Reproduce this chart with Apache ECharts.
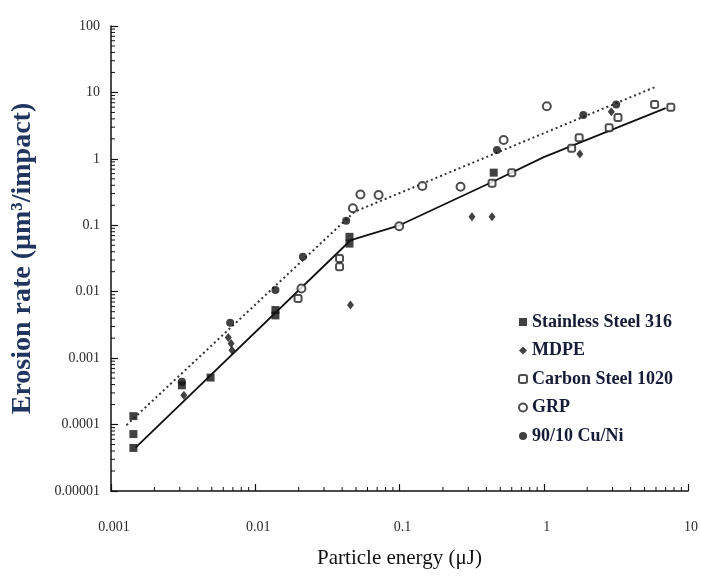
<!DOCTYPE html>
<html>
<head>
<meta charset="utf-8">
<script src="https://cdn.jsdelivr.net/npm/echarts@6/dist/echarts.min.js"></script>
<style>
html,body{margin:0;padding:0;background:#fff;}
#chart{width:701px;height:576px;}
</style>
</head>
<body>
<div id="chart"></div>
<script>
// ---- tick labels ----
const xTickValues = [0.001, 0.01, 0.1, 1, 10];
const xTickLabels = ['0.001', '0.01', '0.1', '1', '10'];
const yTickValues = [0.00001, 0.0001, 0.001, 0.01, 0.1, 1, 10, 100];
const yTickLabels = ['0.00001', '0.0001', '0.001', '0.01', '0.1', '1', '10', '100'];

// ---- series data: [particle energy (uJ), erosion rate (um3/impact)] ----
const stainlessSteel316 = [
  [0.00143, 0.000134], [0.00143, 0.000072], [0.00143, 0.0000445],
  [0.0031, 0.00039], [0.0049, 0.00051], [0.0138, 0.0053], [0.0138, 0.0044],
  [0.045, 0.067], [0.045, 0.053], [0.45, 0.62]
];
const mdpe = [
  [0.0032, 0.000277], [0.0065, 0.00205], [0.0068, 0.00166], [0.0069, 0.00132],
  [0.0457, 0.0063], [0.318, 0.134], [0.438, 0.134], [1.78, 1.18], [2.94, 5.1]
];
const carbonSteel1020 = [
  [0.0198, 0.0079], [0.0384, 0.0317], [0.0384, 0.0237], [0.438, 0.43],
  [0.60, 0.62], [1.56, 1.44], [1.76, 2.08], [2.84, 2.94], [3.27, 4.2],
  [5.87, 6.6], [7.6, 5.97]
];
const grp = [
  [0.0209, 0.0112], [0.0475, 0.18], [0.0536, 0.29], [0.0716, 0.285],
  [0.0995, 0.097], [0.144, 0.39], [0.265, 0.38], [0.527, 1.92], [1.05, 6.2]
];
const cuNi9010 = [
  [0.0031, 0.00044], [0.0067, 0.0034], [0.0138, 0.0106], [0.0214, 0.0336],
  [0.0427, 0.117], [0.474, 1.36], [1.88, 4.57], [3.18, 6.6]
];
// trend lines
const solidTrend = [[0.00148, 0.000045], [0.046, 0.06], [0.1, 0.1], [0.45, 0.46], [1, 1.06], [7, 5.8]];
const dottedTrend = [[0.00128, 0.000098], [0.0488, 0.16], [6.0, 12.2]];

// minor ticks (axis decoration) at 2..9 x 10^k
const minorTicks = [];
for (let e = -5; e < 2; e++) for (let m = 2; m <= 9; m++) minorTicks.push([0.001, m * Math.pow(10, e), 0]);
for (let e = -3; e < 1; e++) for (let m = 2; m <= 9; m++) minorTicks.push([m * Math.pow(10, e), 0.00001, 1]);

function labelFor(values, labels, v) {
  const i = values.findIndex(t => Math.abs(Math.log10(t) - Math.log10(v)) < 1e-6);
  return i >= 0 ? labels[i] : '';
}

const serif = '"Liberation Serif", "DejaVu Serif", serif';
const ink = '#111';

const chart = echarts.init(document.getElementById('chart'), null, {renderer: 'canvas'});
chart.setOption({
  backgroundColor: '#fff',
  animation: false,
  grid: {left: 111, right: 9, top: 26, bottom: 85, containLabel: false},
  xAxis: {
    type: 'log', logBase: 10, min: 0.001, max: 10, interval: 1,
    name: 'Particle energy (μJ)', nameLocation: 'middle', nameGap: 57,
    nameTextStyle: {fontFamily: serif, fontSize: 21, color: '#111'},
    axisLine: {lineStyle: {color: ink, width: 1.5}},
    axisTick: {inside: true, length: 7, lineStyle: {color: ink, width: 1.2}},
    axisLabel: {margin: 29, fontFamily: serif, fontSize: 14, color: '#2a2a2a',
      padding: [0, 0, 0, 6],
      formatter: v => labelFor(xTickValues, xTickLabels, v)},
    splitLine: {show: false}
  },
  yAxis: {
    type: 'log', logBase: 10, min: 0.00001, max: 100, interval: 1,
    name: 'Erosion rate (μm³/impact)', nameLocation: 'middle', nameGap: 74,
    nameTextStyle: {fontFamily: serif, fontSize: 28, fontWeight: 'bold', color: '#1f3560'},
    axisLine: {lineStyle: {color: ink, width: 1.5}},
    axisTick: {inside: true, length: 7, lineStyle: {color: ink, width: 1.2}},
    axisLabel: {margin: 11, fontFamily: serif, fontSize: 14, color: '#2a2a2a',
      formatter: v => labelFor(yTickValues, yTickLabels, v)},
    splitLine: {show: false}
  },
  legend: {
    orient: 'vertical', left: 513, top: 307,
    itemWidth: 8, itemHeight: 8, itemGap: 8.5, itemTextGap: 5,
    textStyle: {fontFamily: serif, fontSize: 18, fontWeight: 'bold', color: '#161b36', lineHeight: 20},
    data: [
      {name: 'Stainless Steel 316', icon: 'rect'},
      {name: 'MDPE', icon: 'diamond'},
      {name: 'Carbon Steel 1020', icon: 'emptyRoundRect'},
      {name: 'GRP', icon: 'emptyCircle'},
      {name: '90/10 Cu/Ni', icon: 'circle'}
    ]
  },
  series: [
    {type: 'custom', silent: true, clip: false, data: minorTicks, z: 1,
      renderItem: function (params, api) {
        const p = api.coord([api.value(0), api.value(1)]);
        const k = api.value(2);
        const shape = k === 0 ? {x1: p[0], y1: p[1], x2: p[0] + 4, y2: p[1]}
                              : {x1: p[0], y1: p[1], x2: p[0], y2: p[1] - 4};
        return {type: 'line', shape: shape, style: {stroke: ink, lineWidth: 1}};
      }},
    {name: 'solidTrend', type: 'line', data: solidTrend, symbol: 'none', smooth: false,
      lineStyle: {color: '#111', width: 1.8}, z: 2},
    {name: 'dottedTrend', type: 'line', data: dottedTrend, symbol: 'none',
      lineStyle: {color: '#333', width: 2, type: [2, 3]}, z: 2},
    {name: 'Stainless Steel 316', type: 'scatter', data: stainlessSteel316, symbol: 'rect', symbolSize: 8,
      itemStyle: {color: '#111'}, z: 3},
    {name: 'MDPE', type: 'scatter', data: mdpe, symbol: 'diamond', symbolSize: [7, 9],
      itemStyle: {color: '#111'}, z: 3},
    {name: 'Carbon Steel 1020', type: 'scatter', data: carbonSteel1020, symbol: 'emptyRoundRect', symbolSize: 7,
      itemStyle: {color: '#222', borderColor: '#222', borderWidth: 1.5}, z: 3},
    {name: 'GRP', type: 'scatter', data: grp, symbol: 'emptyCircle', symbolSize: 8,
      itemStyle: {color: '#222', borderColor: '#222', borderWidth: 1.5}, z: 3},
    {name: '90/10 Cu/Ni', type: 'scatter', data: cuNi9010, symbol: 'circle', symbolSize: 8,
      itemStyle: {color: '#111'}, z: 3}
  ]
});
</script>
</body>
</html>
